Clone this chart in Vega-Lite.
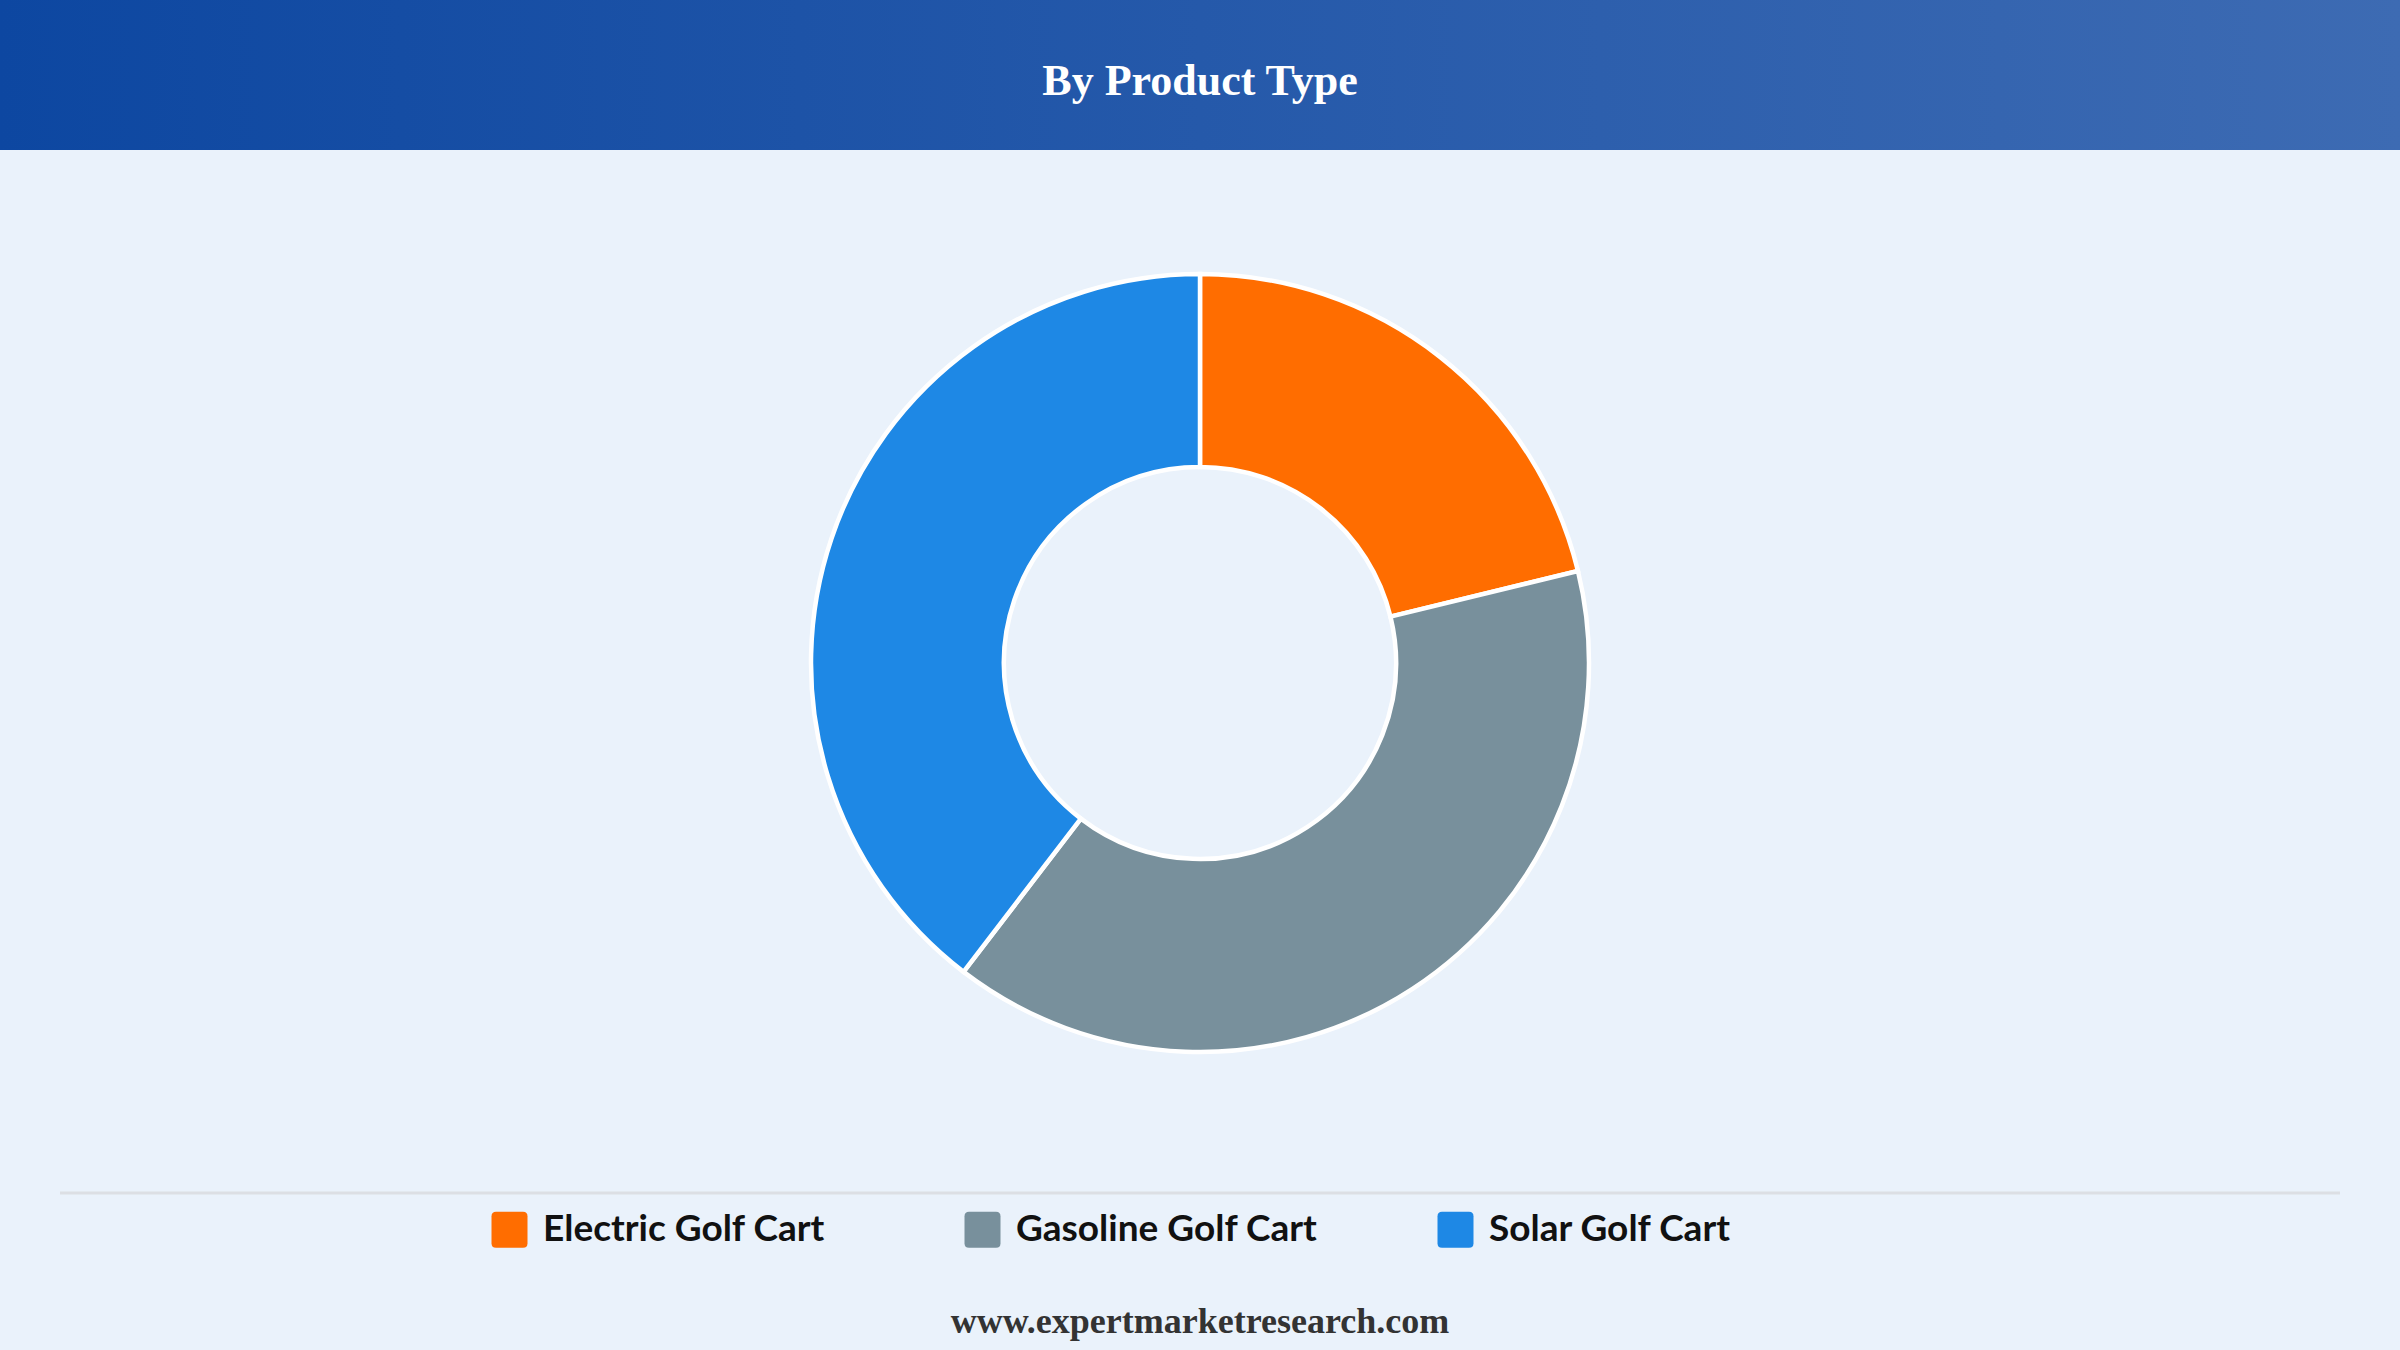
{
  "$schema": "https://vega.github.io/schema/vega-lite/v6.json",
  "width": 2400,
  "height": 1350,
  "autosize": {"type": "fit", "contains": "padding"},
  "padding": {"top": 0, "left": 0, "right": 0, "bottom": 24},
  "background": "#eaf2fb",
  "config": {"view": {"stroke": null}},
  "layer": [
    {
      "data": {"values": [{"band": "header"}]},
      "mark": {
        "type": "rect",
        "fill": {"gradient": "linear", "x1": 0, "x2": 1, "y1": 0, "y2": 0,
          "stops": [{"offset": 0, "color": "#0d47a1"}, {"offset": 1, "color": "#3d6bb3"}]}
      },
      "encoding": {
        "x": {"value": 0}, "x2": {"value": 2400},
        "y": {"value": 0}, "y2": {"value": 150}
      }
    },
    {
      "data": {"values": [{"label": "By Product Type"}]},
      "mark": {"type": "text", "font": "Liberation Serif", "fontWeight": "bold", "fontSize": 44, "color": "#ffffff", "align": "center", "baseline": "alphabetic"},
      "encoding": {
        "text": {"field": "label"},
        "x": {"value": 1200}, "y": {"value": 95}
      }
    },
    {
      "data": {"values": [
        {"type": "Electric Golf Cart", "share": 21.2},
        {"type": "Gasoline Golf Cart", "share": 39.2},
        {"type": "Solar Golf Cart", "share": 39.6}
      ]},
      "mark": {"type": "arc", "innerRadius": 196, "outerRadius": 389, "stroke": "#ffffff", "strokeWidth": 4.5},
      "encoding": {
        "theta": {"field": "share", "type": "quantitative", "stack": true},
        "order": {"field": "type", "sort": "ascending"},
        "color": {
          "field": "type", "type": "nominal",
          "scale": {"domain": ["Electric Golf Cart", "Gasoline Golf Cart", "Solar Golf Cart"], "range": ["#ff6d00", "#78909c", "#1e88e5"]},
          "legend": {
            "title": null,
            "orient": "none",
            "legendX": 491,
            "legendY": 1211,
            "direction": "horizontal",
            "columns": 3,
            "gridAlign": "all",
            "columnPadding": 119,
            "padding": 0,
            "symbolType": "M -1 -0.75 Q -1 -1 -0.75 -1 L 0.75 -1 Q 1 -1 1 -0.75 L 1 0.75 Q 1 1 0.75 1 L -0.75 1 Q -1 1 -1 0.75 Z",
            "symbolSize": 1296,
            "symbolStrokeWidth": 0,
            "symbolOpacity": 1,
            "labelFont": "Lato",
            "labelFontWeight": "bold",
            "labelFontSize": 37,
            "labelColor": "#111111",
            "labelOffset": 15,
            "labelLimit": 600
          }
        }
      }
    },
    {
      "data": {"values": [{"line": "separator"}]},
      "mark": {"type": "rule", "stroke": "#dcdfe4", "strokeWidth": 3},
      "encoding": {
        "x": {"value": 60}, "x2": {"value": 2340},
        "y": {"value": 1193}
      }
    },
    {
      "data": {"values": [{"label": "www.expertmarketresearch.com"}]},
      "mark": {"type": "text", "font": "Liberation Serif", "fontWeight": "bold", "fontSize": 36, "color": "#333333", "align": "center", "baseline": "alphabetic"},
      "encoding": {
        "text": {"field": "label"},
        "x": {"value": 1200}, "y": {"value": 1333}
      }
    }
  ]
}
